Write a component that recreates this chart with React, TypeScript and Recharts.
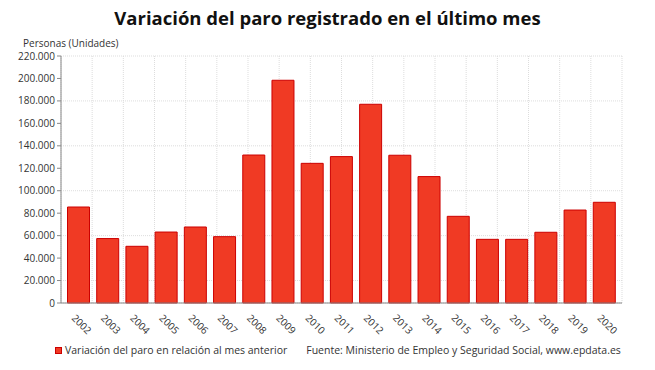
import React from 'react';
import { BarChart, Bar, XAxis, YAxis, CartesianGrid, Legend } from 'recharts';

const YEARS: string[] = [
  '2002', '2003', '2004', '2005', '2006', '2007', '2008', '2009', '2010', '2011',
  '2012', '2013', '2014', '2015', '2016', '2017', '2018', '2019', '2020',
];

const VARIACION: number[] = [
  85500, 57400, 50500, 63200, 67700, 59100, 131800, 198400, 124400, 130400,
  177000, 131600, 112600, 77200, 56700, 56700, 63000, 82800, 89700,
];

const Y_TICKS: number[] = [0, 20000, 40000, 60000, 80000, 100000, 120000, 140000, 160000, 180000, 200000, 220000];

const SERIES_NAME = 'Variación del paro en relación al mes anterior';
const SOURCE = 'Fuente: Ministerio de Empleo y Seguridad Social, www.epdata.es';
const FONT = '"Open Sans", sans-serif';

const data = YEARS.map((year, i) => ({ year, value: VARIACION[i] }));

const fmt = (v: number) => v.toLocaleString('de-DE');

function YearTick({ x, y, payload }: any) {
  return (
    <text x={x} y={y} dy={2} transform={`rotate(45 ${x} ${y})`} textAnchor="start" dominantBaseline="hanging"
      fill="#333" fontSize={10} fontFamily={FONT}>
      {payload.value}
    </text>
  );
}

function LegendContent() {
  return (
    <div style={{ display: 'flex', alignItems: 'center', fontFamily: FONT, fontSize: 10.5, color: '#333' }}>
      <span style={{ width: 5, height: 5, background: '#f03a24', border: '1px solid #cc0000', marginRight: 3 }} />
      <span>{SERIES_NAME}</span>
      <span style={{ marginLeft: 19 }}>{SOURCE}</span>
    </div>
  );
}

export default function App() {
  return (
    <div style={{ position: 'absolute', left: 0, top: 0, width: 655, height: 370, background: '#fff' }}>
      <div style={{ position: 'absolute', top: 5, width: 655, textAlign: 'center', fontFamily: FONT, fontWeight: 700, fontSize: 18.5, color: '#111' }}>
        Variación del paro registrado en el último mes
      </div>
      <div style={{ position: 'absolute', top: 36, left: 23, fontFamily: FONT, fontSize: 10, color: '#333' }}>
        Personas (Unidades)
      </div>
      <BarChart width={655} height={370} data={data} margin={{ top: 56, right: 33, bottom: 27, left: 0 }}
        barCategoryGap="12%">
        <CartesianGrid stroke="#ddd" strokeDasharray="1 1"
          verticalCoordinatesGenerator={({ offset }: any) =>
            Array.from({ length: 19 }, (_, i) => offset.left + (offset.width * i) / 18)} />
        <XAxis dataKey="year" height={40} interval={0} tick={<YearTick />} padding={{ left: 3, right: 3 }}
          stroke="#888" tickLine={false} />
        <YAxis width={61} domain={[0, 220000]} ticks={Y_TICKS} tickFormatter={fmt} stroke="#888"
          tickSize={4} tick={{ fill: '#333', fontSize: 10, fontFamily: FONT }} />
        <Legend layout="horizontal" verticalAlign="middle" align="center" content={<LegendContent />}
          wrapperStyle={{ left: 55, top: 343, width: 600 }} />
        <Bar dataKey="value" name={SERIES_NAME} fill="#f03a24" stroke="#cc0000" strokeWidth={1}
          isAnimationActive={false} />
      </BarChart>
    </div>
  );
}
